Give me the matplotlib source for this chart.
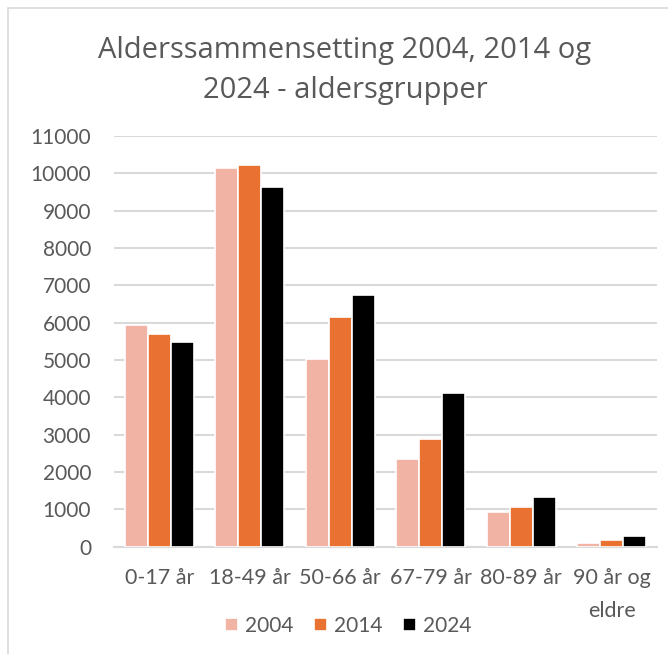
import matplotlib
matplotlib.use("Agg")
import matplotlib.pyplot as plt
import numpy as np
from matplotlib.patches import Rectangle

categories = ["0-17 år", "18-49 år", "50-66 år", "67-79 år", "80-89 år", "90 år og\neldre"]
years = ["2004", "2014", "2024"]
v2004 = [5950, 10140, 5020, 2340, 920, 107]
v2014 = [5690, 10230, 6140, 2890, 1070, 187]
v2024 = [5475, 9640, 6730, 4125, 1320, 286]
colors = ["#F1B3A3", "#E97132", "#000000"]
yticks = list(range(0, 11001, 1000))
title_lines = ["Alderssammensetting 2004, 2014 og", "2024 - aldersgrupper"]

plt.rcParams['font.family'] = ['Lato', 'DejaVu Sans']
text_color = "#595959"

fig = plt.figure(figsize=(6.68, 6.54), dpi=100)
fig.patches.append(Rectangle((8/668, -0.1), 1.2, 1 - 8/654 + 0.1, transform=fig.transFigure,
                             fill=False, edgecolor="#d9d9d9", linewidth=1.2))
ax = fig.add_axes([114/668, 1 - 546.7/654, (657 - 114)/668, (546.7 - 136)/654])

x = np.arange(len(categories))
w = 0.255
for i, (vals, c, lab) in enumerate(zip([v2004, v2014, v2024], colors, years)):
    ax.bar(x + (i - 1) * w, vals, width=w, color=c, edgecolor="white", linewidth=1.2,
           label=lab, zorder=3)

ax.set_xlim(-0.5, len(categories) - 0.5)
ax.set_ylim(0, 11000)
ax.set_yticks(yticks)
ax.set_yticklabels([str(t) for t in yticks])
ax.set_xticks(x)
ax.set_xticklabels(categories)
ax.grid(axis='y', color="#d9d9d9", linewidth=1.5, zorder=0)
for s in ["left", "right", "top"]:
    ax.spines[s].set_visible(False)
ax.spines["bottom"].set_color("#d9d9d9")
ax.spines["bottom"].set_linewidth(1.5)
ax.tick_params(axis='both', length=0, labelsize=15, colors=text_color)
ax.tick_params(axis='y', pad=16.5)
ax.tick_params(axis='x', pad=15)
for t in ax.get_xticklabels():
    t.set_linespacing(1.85)
    t.set_fontsize(15.5)

for line, yb in zip(title_lines, [58, 97.7]):
    fig.text(345/668, 1 - yb/654, line, ha="center", va="baseline",
             fontsize=21, color=text_color, family=['Open Sans', 'DejaVu Sans'])

leg = fig.legend(loc="center", bbox_to_anchor=(348/668, 1 - 625.7/654), ncol=3, frameon=False,
                 fontsize=15, handlelength=0.625, handleheight=0.625, handletextpad=0.32,
                 columnspacing=1.0, labelcolor=text_color, borderpad=0, borderaxespad=0)

fig.savefig("out.png", dpi=100)
